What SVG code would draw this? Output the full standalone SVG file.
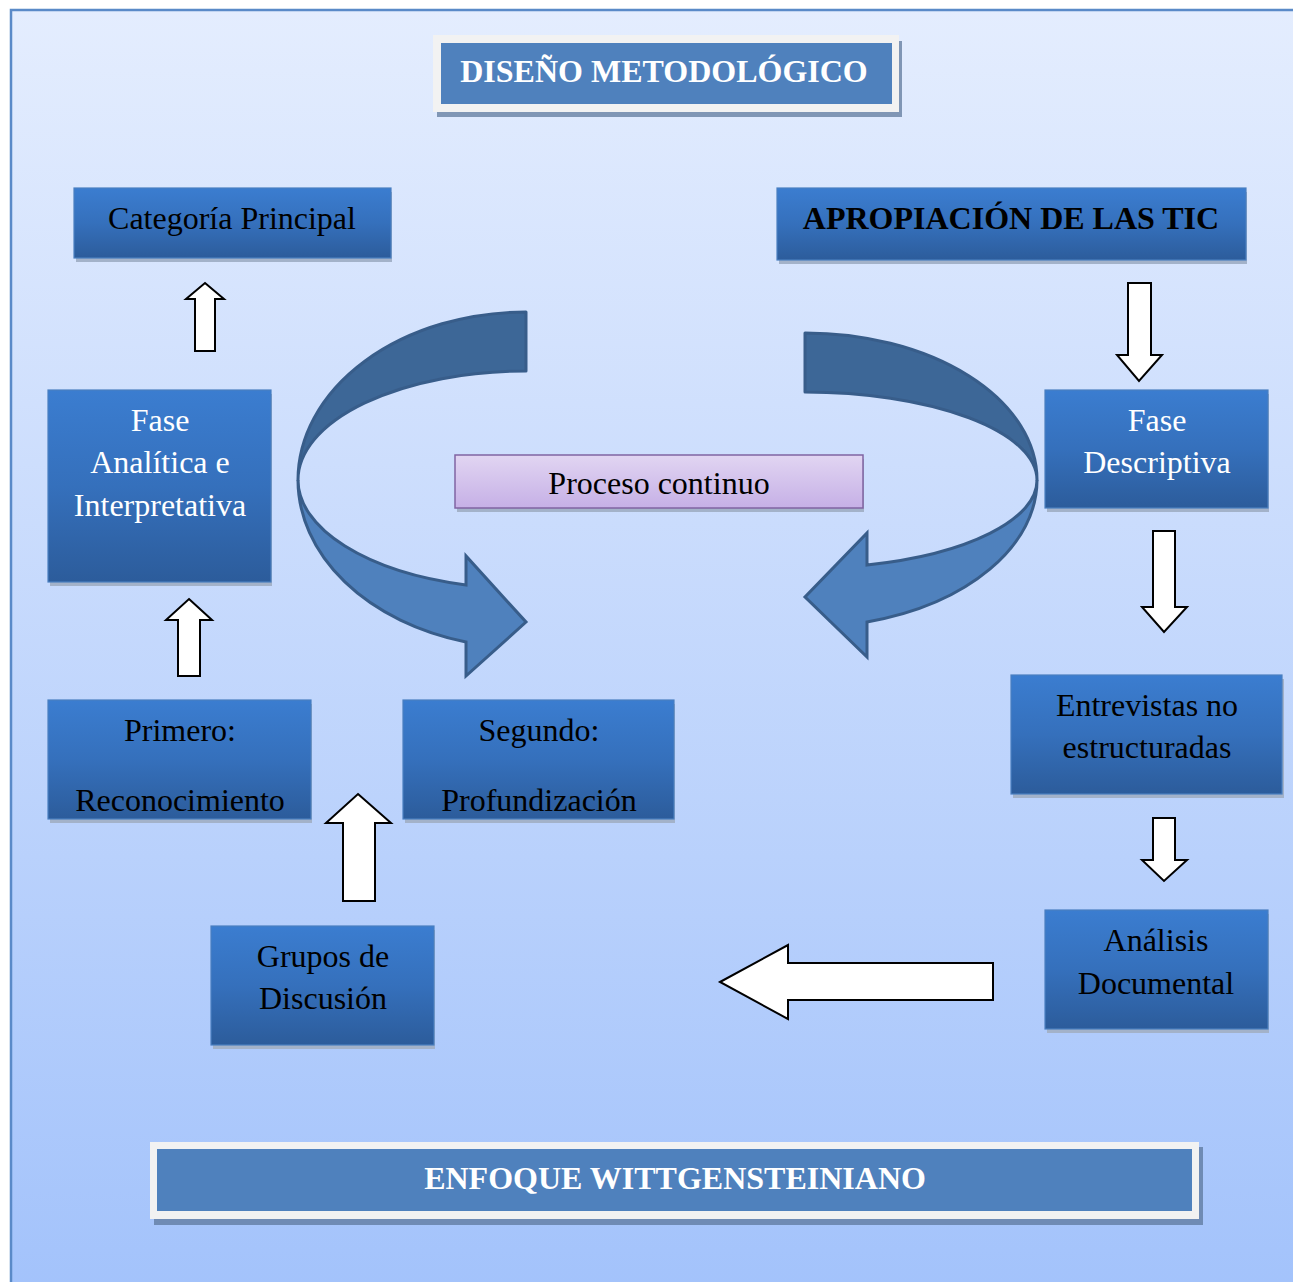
<svg xmlns="http://www.w3.org/2000/svg" width="1293" height="1282" viewBox="0 0 1293 1282">
<defs>
<linearGradient id="bg" x1="0" y1="0" x2="0" y2="1">
<stop offset="0" stop-color="#e4edfe"/>
<stop offset="1" stop-color="#a2c2fb"/>
</linearGradient>
<linearGradient id="boxg" x1="0" y1="0" x2="0" y2="1">
<stop offset="0" stop-color="#3b7dd0"/>
<stop offset="0.5" stop-color="#3570bc"/>
<stop offset="1" stop-color="#2c5c9b"/>
</linearGradient>
<linearGradient id="lav" x1="0" y1="0" x2="0" y2="1">
<stop offset="0" stop-color="#e1d5f2"/>
<stop offset="1" stop-color="#c6b0e6"/>
</linearGradient>
<clipPath id="clipP"><rect x="40" y="690" width="640" height="121"/></clipPath>
</defs>
<style>
.box{fill:url(#boxg);stroke:#4a7fc0;stroke-width:1.2}
.sh{fill:#a3b2c9}
.t{font-family:"Liberation Serif","Times New Roman",serif;font-size:32px;text-anchor:middle}
.k{fill:#000}
.w{fill:#fff}
.b{font-weight:bold}
.blk{fill:#fff;stroke:#000;stroke-width:2;stroke-linejoin:miter}
.dark{fill:#3d6797;stroke:#385d8a;stroke-width:3;stroke-linejoin:round}
.light{fill:#4f81bd;stroke:#385d8a;stroke-width:3;stroke-linejoin:miter}
</style>
<rect x="0" y="0" width="1293" height="1282" fill="#fff"/>
<rect x="11" y="10" width="1300" height="1300" fill="url(#bg)" stroke="#5a8ac8" stroke-width="2.5"/>

<g id="title">
<rect x="437" y="41" width="465" height="76" fill="#8096b5"/>
<rect x="433" y="35" width="466" height="77" fill="#f2f2f2"/>
<rect x="441" y="43" width="451" height="61" fill="#4f81bd"/>
<text class="t w b" x="664" y="82">DISEÑO METODOLÓGICO</text>
</g>

<g id="categoria">
<rect class="sh" x="76" y="192" width="316" height="70"/>
<rect class="box" x="74" y="188" width="317" height="70"/>
<text class="t k" x="232" y="229">Categoría Principal</text>
</g>

<g id="apropiacion">
<rect class="sh" x="779" y="192" width="468" height="72"/>
<rect class="box" x="777" y="188" width="469" height="72"/>
<text class="t k b" x="1011" y="229">APROPIACIÓN DE LAS TIC</text>
</g>

<g id="fase-analitica">
<rect class="sh" x="50" y="394" width="222" height="192"/>
<rect class="box" x="48" y="390" width="223" height="192"/>
<text class="t w" x="160" y="431">Fase</text>
<text class="t w" x="160" y="473">Analítica e</text>
<text class="t w" x="160" y="516">Interpretativa</text>
</g>

<g id="fase-descriptiva">
<rect class="sh" x="1047" y="394" width="222" height="118"/>
<rect class="box" x="1045" y="390" width="223" height="118"/>
<text class="t w" x="1157" y="431">Fase</text>
<text class="t w" x="1157" y="473">Descriptiva</text>
</g>

<g id="proceso">
<rect x="457" y="459" width="407" height="53" fill="#a3b2c9"/>
<rect x="455" y="455" width="408" height="53" fill="url(#lav)" stroke="#8064a2" stroke-width="1.5"/>
<text class="t k" x="659" y="494">Proceso continuo</text>
</g>

<g id="primero">
<rect class="sh" x="50" y="704" width="262" height="119"/>
<rect class="box" x="48" y="700" width="263" height="119"/>
<text class="t k" x="180" y="741">Primero:</text>
<text class="t k" x="180" y="811" clip-path="url(#clipP)">Reconocimiento</text>
</g>

<g id="segundo">
<rect class="sh" x="405" y="704" width="270" height="119"/>
<rect class="box" x="403" y="700" width="271" height="119"/>
<text class="t k" x="539" y="741">Segundo:</text>
<text class="t k" x="539" y="811" clip-path="url(#clipP)">Profundización</text>
</g>

<g id="entrevistas">
<rect class="sh" x="1013" y="679" width="271" height="119"/>
<rect class="box" x="1011" y="675" width="271" height="119"/>
<text class="t k" x="1147" y="716">Entrevistas no</text>
<text class="t k" x="1147" y="758">estructuradas</text>
</g>

<g id="analisis">
<rect class="sh" x="1047" y="914" width="222" height="119"/>
<rect class="box" x="1045" y="910" width="223" height="119"/>
<text class="t k" x="1156" y="951">Análisis</text>
<text class="t k" x="1156" y="994">Documental</text>
</g>

<g id="grupos">
<rect class="sh" x="213" y="930" width="222" height="119"/>
<rect class="box" x="211" y="926" width="223" height="119"/>
<text class="t k" x="323" y="967">Grupos de</text>
<text class="t k" x="323" y="1009">Discusión</text>
</g>

<g id="enfoque">
<rect x="154" y="1147" width="1049" height="78" fill="#6f8bb4"/>
<rect x="150" y="1142" width="1049" height="77" fill="#f2f2f2"/>
<rect x="157" y="1149" width="1035" height="62" fill="#4f81bd"/>
<text class="t w b" x="675" y="1189">ENFOQUE WITTGENSTEINIANO</text>
</g>

<g id="connectors">
<!-- curved arrows -->
<path class="dark" d="M526,312 A228,168 0 0 0 298,480 A228,109 0 0 1 526,371 Z"/>
<path class="light" d="M298,480 A228,168 0 0 0 466,642 L466,676 L526,622 L466,556 L466,585 A228,109 0 0 1 298,480 Z"/>
<path class="dark" d="M805,333 A232,147 0 0 1 1037,480 A232,88 0 0 0 805,392 Z"/>
<path class="light" d="M1037,480 A232,147 0 0 1 867,622 L867,657 L805,597 L867,533 L867,565 A232,88 0 0 0 1037,480 Z"/>
<!-- block arrows -->
<path class="blk" d="M205,283 L224,299 L215,299 L215,351 L195,351 L195,299 L186,299 Z"/>
<path class="blk" d="M189,599 L212,620 L200,620 L200,676 L178,676 L178,620 L166,620 Z"/>
<path class="blk" d="M358,794 L391,823 L375,823 L375,901 L343,901 L343,823 L326,823 Z"/>
<path class="blk" d="M1128,283 L1151,283 L1151,355 L1162,355 L1139,381 L1117,355 L1128,355 Z"/>
<path class="blk" d="M1153,531 L1175,531 L1175,607 L1187,607 L1164,632 L1142,607 L1153,607 Z"/>
<path class="blk" d="M1153,818 L1175,818 L1175,860 L1187,860 L1164,881 L1142,860 L1153,860 Z"/>
<path class="blk" d="M720,982 L788,945 L788,963 L993,963 L993,1000 L788,1000 L788,1019 Z"/>
</g>
</svg>
